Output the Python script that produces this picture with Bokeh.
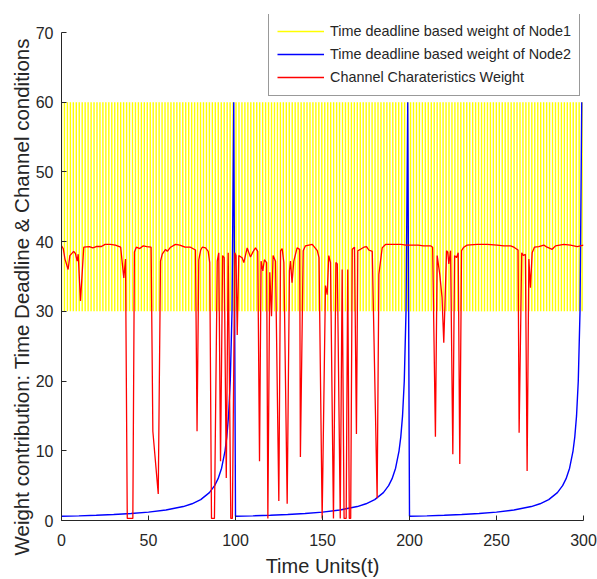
import numpy as np
from bokeh.plotting import figure
from bokeh.models import Range1d, Legend, LegendItem, FixedTicker, Title
from bokeh.embed import file_html
from bokeh.resources import INLINE

# ---------------- data ----------------
x_ticks = [0, 50, 100, 150, 200, 250, 300]
y_ticks = [0, 10, 20, 30, 40, 50, 60, 70]

# Node1: periodic weight switching between two levels
node1_low = 30
node1_high = 60
node1_spacing = 1.7
t_end = 300

# Node2: one deadline cycle, repeated each cycle
node2_cycle_starts = [0, 100, 200]
node2_offsets = [0, 10, 20, 30, 40, 50, 60, 70, 75, 80, 85, 88, 90, 92, 94, 95, 96, 97, 98, 99]
node2_values = [0.6, 0.67, 0.75, 0.86, 1.0, 1.2, 1.5, 2.0, 2.4, 3.0, 4.0, 5.0, 6.0, 7.5, 10.0, 12.0, 15.0, 20.0, 30.0, 60.0]

# Channel characteristics weight
red_t = [0, 1, 2, 3.8, 4.8, 7, 8, 9, 9.6, 10.9,
         12.8, 16, 18, 20, 23, 25, 28, 31, 34, 35.8,
         36.8, 37.8, 41, 41.9, 43, 45, 47, 49, 51.5, 52.5,
         55.6, 56.9, 57.9, 59.8, 60.8, 62.7, 65.5, 68, 71, 74.1,
         77, 77.9, 78.9, 80, 80.9, 82.8, 84.3, 85.2, 86.2, 87.9,
         89.5, 90.4, 91.4, 92.6, 93.5, 94.7, 95.8, 97.3, 98.2, 99.6,
         100.3, 101.0, 101.9, 103.8, 104.8, 106.7, 108.6, 110.2, 111.5, 112.8,
         113.8, 114.7, 115.7, 116.6, 117.9, 118.6, 119.7, 120.7, 121.6, 123.0,
         124.9, 125.9, 126.8, 127.8, 129.7, 131.0, 131.6, 132.5, 133.5, 135.4,
         136.9, 137.3, 138.9, 140.2, 144.1, 147.0, 148.0, 149.8, 151.7, 152.7,
         153.6, 154.6, 156.3, 157.7, 158.5, 160.2, 161.3, 162.4, 163.6, 164.5,
         165.4, 166.2, 167.1, 168.4, 169.5, 170.3, 171.8, 173.8, 175.3, 176.6,
         178.6, 181.4, 182.4, 184.3, 186.2, 190, 195, 198, 200.6, 205,
         208, 212.1, 213.3, 214.9, 215.9, 217.4, 218.7, 219.7, 221.3, 222.0,
         222.6, 223.6, 224.9, 225.9, 227.0, 228.0, 228.9, 229.9, 231.2, 233.1,
         238.9, 244.6, 250.4, 254.2, 258.1, 260.0, 262.4, 263.0, 264.5, 265.5,
         266.6, 267.6, 268.6, 269.5, 270.5, 271.8, 274.3, 277.2, 279.1, 282.0,
         283.9, 288.7, 292.5, 296.4, 300]
red_w = [39.4, 39.0, 37.5, 36.0, 38.0, 38.6, 38.3, 37.2, 38.2, 31.5,
         39.2, 39.3, 39.1, 39.3, 39.3, 39.6, 39.6, 39.5, 39.2, 34.8,
         37.5, 0.3, 0.3, 38.5, 39.2, 39.0, 39.4, 39.3, 39.2, 12.8,
         3.8, 37.2, 38.2, 38.9, 38.6, 39.2, 39.6, 39.5, 39.2, 39.2,
         38.8, 12.8, 37.4, 38.8, 39.2, 39.1, 38.6, 37.0, 0.3, 0.3,
         37.2, 38.4, 8.5, 38.0, 37.7, 6.1, 38.4, 0.3, 0.3, 38.4,
         38.0, 26.6, 38.0, 37.7, 37.0, 39.1, 37.8, 38.6, 39.1, 38.6,
         8.5, 37.2, 35.8, 37.4, 37.0, 0.3, 35.6, 29.3, 38.0, 37.2,
         2.8, 38.7, 39.0, 37.0, 2.4, 35.8, 37.2, 34.1, 37.2, 39.1,
         38.9, 9.1, 38.7, 39.4, 39.6, 38.7, 37.7, 0.3, 33.7, 32.4,
         38.0, 37.0, 0.3, 37.0, 36.8, 0.3, 36.0, 0.3, 0.3, 36.0,
         0.3, 0.3, 38.9, 39.2, 12.4, 38.7, 38.9, 39.2, 39.3, 38.8,
         38.6, 3.2, 35.3, 39.1, 39.6, 39.6, 39.6, 39.5, 39.5, 39.5,
         39.4, 39.4, 39.2, 12.0, 38.0, 35.3, 32.0, 25.5, 38.7, 38.5,
         36.8, 38.7, 9.5, 38.0, 37.7, 38.4, 8.1, 38.7, 39.2, 39.5,
         39.6, 39.6, 39.5, 39.4, 39.4, 39.2, 38.8, 12.6, 38.4, 38.0,
         38.2, 7.1, 37.5, 33.4, 38.4, 39.2, 39.3, 39.5, 39.2, 38.9,
         39.4, 39.6, 39.5, 39.3, 39.5]

legend_labels = ["Time deadline based weight of Node1",
                 "Time deadline based weight of Node2",
                 "Channel Charateristics Weight"]
x_label = "Time Units(t)"
y_label = "Weight contribution: Time Deadline & Channel conditions"

# ---------------- figure ----------------
FONT = "Liberation Sans"
AXC = "#262626"
Y_TOP = 70 + 18 / (488 / 70)  # frame extends up to the legend top; axis stops at 70

p = figure(width=597, height=579, output_backend="svg", toolbar_location=None,
           x_range=Range1d(0, 300), y_range=Range1d(0, Y_TOP),
           min_border_left=61, min_border_right=14, min_border_top=14, min_border_bottom=59)
p.outline_line_color = None
p.xgrid.visible = False
p.ygrid.visible = False
p.background_fill_color = "white"
p.border_fill_color = "white"

# Node1 stripes
stripe_x = np.arange(0, t_end + 1e-9, node1_spacing)
r_y = p.segment(x0=stripe_x, y0=np.full(len(stripe_x), node1_low),
                x1=stripe_x, y1=np.full(len(stripe_x), node1_high),
                line_color="#FFFF00", line_width=1.4)

# Node2
bx = []
by = []
for s in node2_cycle_starts:
    bx.extend([s + o for o in node2_offsets])
    by.extend(node2_values)
r_b = p.line(bx, by, line_color="#0000FF", line_width=1.4)

# Channel
r_r = p.line(red_t, red_w, line_color="#FF0000", line_width=1.3)

for ax in (p.xaxis[0], p.yaxis[0]):
    ax.axis_line_color = AXC
    ax.major_tick_line_color = AXC
    ax.minor_tick_line_color = None
    ax.major_tick_in = 5
    ax.major_tick_out = 0
    ax.major_label_text_font = FONT
    ax.major_label_text_font_size = "16px"
    ax.major_label_text_color = AXC
    ax.axis_label_text_font = FONT
    ax.axis_label_text_font_size = "20px"
    ax.axis_label_text_font_style = "normal"
    ax.axis_label_text_color = AXC

p.yaxis.bounds = (0, 70)
p.xaxis.ticker = FixedTicker(ticks=x_ticks)
p.yaxis.ticker = FixedTicker(ticks=y_ticks)
p.xaxis.axis_label = x_label
p.xaxis.major_label_standoff = 13
p.yaxis.major_label_standoff = 8
p.xaxis.axis_label_standoff = 6

# y label as a side title so it can be placed along the axis like the reference
ytitle = Title(text=y_label, align="left", offset=-35, standoff=0,
               text_font=FONT, text_font_size="20.5px", text_font_style="normal",
               text_color=AXC)
p.add_layout(ytitle, "left")

legend = Legend(items=[LegendItem(label=legend_labels[0], renderers=[r_y]),
                       LegendItem(label=legend_labels[1], renderers=[r_b]),
                       LegendItem(label=legend_labels[2], renderers=[r_r])],
                location=(207, 424))
legend.label_text_font = FONT
legend.label_text_font_size = "14.4px"
legend.label_text_color = AXC
legend.glyph_width = 47
legend.glyph_height = 20
legend.label_height = 20
legend.label_standoff = 6
legend.spacing = 3
legend.padding = 8
legend.margin = 0
legend.border_line_color = "#333333"
legend.border_line_width = 1.3
legend.background_fill_color = "white"
legend.background_fill_alpha = 1.0
p.add_layout(legend)

open("out.html", "w").write(file_html(p, INLINE))
